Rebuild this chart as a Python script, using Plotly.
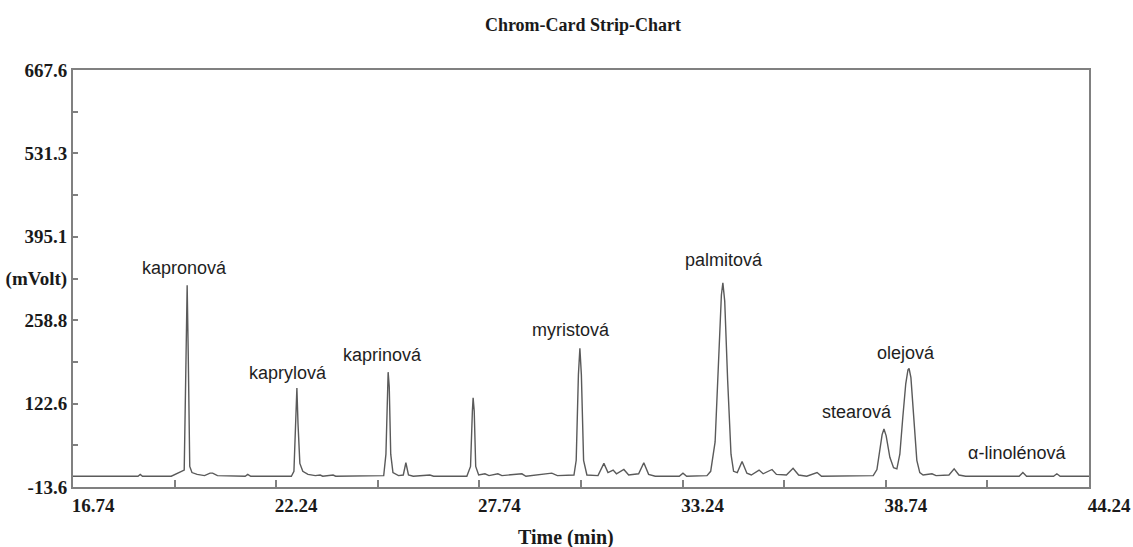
import plotly.graph_objects as go

# chromatogram trace (time in min, signal in mV)
times = [
    16.74, 17.90, 17.96, 18.02, 18.50, 18.56, 18.62,
    19.40, 19.60, 19.75, 19.80, 19.83, 19.86, 19.90, 19.96, 20.10, 20.30, 20.45, 20.52, 20.65,
    21.40, 21.47, 21.55, 22.65,
    22.72, 22.77, 22.80, 22.83, 22.88, 22.96, 23.10, 23.30, 23.43, 23.50, 23.78, 23.85, 25.15,
    25.21, 25.25, 25.27, 25.30, 25.34, 25.40, 25.55, 25.68, 25.75, 25.82, 25.95, 26.40, 26.50, 27.40,
    27.50, 27.55, 27.57, 27.60, 27.64, 27.72, 27.89, 28.00, 28.24, 28.35, 28.89, 29.00, 29.70, 29.85, 30.30,
    30.36, 30.42, 30.46, 30.50, 30.56, 30.65, 30.95, 31.11, 31.22, 31.36, 31.45, 31.65, 31.78, 32.05,
    32.19, 32.32, 32.50, 33.15, 33.25, 33.35, 33.90,
    34.00, 34.12, 34.22, 34.29, 34.33, 34.38, 34.46, 34.55, 34.62, 34.72, 34.85, 34.98, 35.10,
    35.31, 35.42, 35.66, 35.78, 36.05, 36.23, 36.38, 36.60, 36.88, 37.00, 38.20,
    38.40, 38.50, 38.58, 38.64, 38.69, 38.75, 38.85, 38.95, 39.04, 39.12, 39.20, 39.28, 39.34, 39.37,
    39.42, 39.50, 39.58, 39.66, 39.75, 39.99, 40.10, 40.45, 40.59, 40.72, 40.90,
    42.35, 42.45, 42.55, 43.28, 43.37, 43.46, 44.24,
]
signal = [
    4, 4, 5, 4, 4, 7, 4,
    4, 9, 14, 200, 316, 200, 20, 10, 7, 5, 9, 9, 5,
    4, 7, 4, 4,
    12, 100, 148, 90, 25, 12, 7, 5, 6, 4, 6, 4, 5,
    40, 150, 174, 150, 40, 10, 5, 6, 26, 6, 4, 6, 4, 4,
    20, 110, 132, 110, 20, 6, 8, 5, 8, 5, 8, 4, 9, 5, 6,
    30, 170, 213, 170, 30, 6, 5, 25, 10, 14, 8, 15, 6, 8,
    26, 7, 4, 4, 9, 4, 5,
    12, 60, 200, 300, 320, 290, 160, 40, 12, 10, 28, 9, 6,
    14, 8, 15, 7, 6, 17, 6, 4, 10, 4, 4,
    5, 15, 45, 72, 81, 70, 35, 18, 16, 40, 100, 155, 178, 180,
    165, 95, 30, 10, 6, 8, 5, 6, 16, 6, 4,
    4, 10, 4, 4, 8, 4, 4,
]

# peak names and where their labels sit
peak_names = ["kapronová", "kaprylová", "kaprinová", "myristová", "palmitová",
              "stearová", "olejová", "α-linolénová"]
label_t = [19.77, 22.56, 25.13, 30.22, 34.36, 37.96, 39.29, 42.29]
label_mv = [344, 173, 202, 243, 357, 109, 205, 42]

# axis ticks as printed on the chart
x_ticks = [16.74, 22.24, 27.74, 33.24, 38.74, 44.24]
x_minor = [19.49, 24.99, 30.49, 35.99, 41.49]
y_ticks = [667.6, 531.3, 395.1, 326.95, 258.8, 122.6, -13.6]
y_text = ["667.6", "531.3", "395.1", "(mVolt)", "258.8", "122.6", "-13.6"]
y_minor = [599.45, 463.2, 190.7, 54.5]

serif = "Liberation Serif"
frame = "#808080"

fig = go.Figure()
fig.add_trace(go.Scatter(x=times, y=signal, mode="lines",
                         line=dict(color="#5a5a5a", width=1.4),
                         hoverinfo="skip", showlegend=False))

for name, t, mv in zip(peak_names, label_t, label_mv):
    fig.add_annotation(x=t, y=mv, text=name, showarrow=False,
                       xanchor="center", yanchor="middle",
                       font=dict(family="Liberation Sans", size=18, color="#1e1e1e"))

# x axis title sits a bit left of the plot centre
fig.add_annotation(x=0.485, y=-0.12, xref="paper", yref="paper", text="Time (min)",
                   showarrow=False, xanchor="center", yanchor="middle",
                   font=dict(family=serif, size=20, color="#1a1a1a", weight="bold"))

fig.update_layout(
    width=1133, height=547,
    margin=dict(l=73, r=44, t=70, b=60),
    paper_bgcolor="white", plot_bgcolor="white",
    title=dict(text="Chrom-Card Strip-Chart", x=583 / 1133, y=1 - 25 / 547,
               xref="container", yref="container",
               xanchor="center", yanchor="middle",
               font=dict(family=serif, size=18, color="#1a1a1a", weight="bold")),
)

fig.update_xaxes(range=[16.74, 44.24], tickmode="array", tickvals=x_ticks,
                 ticktext=[f"{v:.2f}" for v in x_ticks], automargin=False,
                 ticks="inside", ticklen=7, tickwidth=1.5, tickcolor=frame,
                 ticklabelshift=20, ticklabelstandoff=0,
                 minor=dict(tickvals=x_minor, ticks="inside", ticklen=7, tickwidth=1.5, tickcolor=frame),
                 showline=True, linecolor=frame, linewidth=2, mirror=True,
                 showgrid=False, zeroline=False,
                 tickfont=dict(family=serif, size=19, color="#1a1a1a", weight="bold"))

fig.update_yaxes(range=[-13.6, 667.6], tickmode="array", tickvals=y_ticks, ticktext=y_text,
                 automargin=False,
                 ticks="inside", ticklen=5, tickwidth=1.5, tickcolor=frame,
                 minor=dict(tickvals=y_minor, ticks="inside", ticklen=5, tickwidth=1.5, tickcolor=frame),
                 showline=True, linecolor=frame, linewidth=2, mirror=True,
                 showgrid=False, zeroline=False,
                 tickfont=dict(family=serif, size=19, color="#1a1a1a", weight="bold"))

# page body has a default 8px margin, drop it so the figure fills the window
fig.write_html("out.html", config={"displayModeBar": False},
               post_script="document.body.style.margin='0';")
